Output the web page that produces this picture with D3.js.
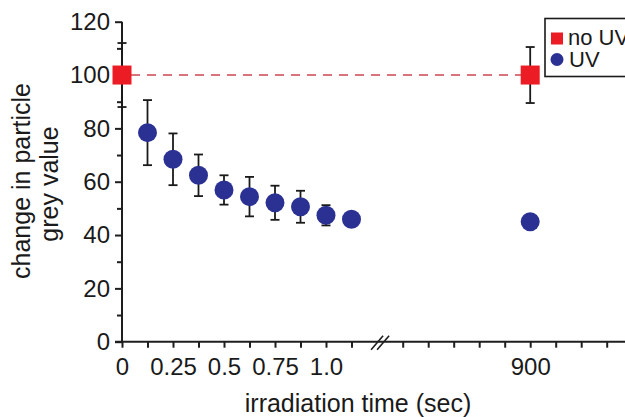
<!DOCTYPE html>
<html lang='en'>
  <head>
    <meta charset="utf-8">
    <style>
      body { margin: 0; background: #ffffff; }
      text {
            font-family: "Liberation Sans", Arial, sans-serif;
            fill: #1a1a1a;
      }
    </style>
    <title>Particle grey value</title>
    <script src="https://d3js.org/d3.v7.min.js"></script>
  </head>
  <body>
    <div id="chart"></div>
  <script>

    // data
    var uvTimes  = [0.125, 0.25, 0.375, 0.5, 0.625, 0.75, 0.875, 1.0, 1.125];
    var uvValues = [78.4, 68.4, 62.4, 56.9, 54.4, 52.1, 50.6, 47.4, 45.9];
    var uvErrors = [12.2, 9.7, 7.8, 5.5, 7.4, 6.4, 6.0, 3.8, 0];
    var uvLateTime = 900, uvLateValue = 45.0, uvLateError = 0;

    var noUvTimes  = [0, 900];
    var noUvValues = [100, 100];
    var noUvErrors = [12, 10.5];

    var yMajorTicks = [0, 20, 40, 60, 80, 100, 120];
    var yMinorTicks = [10, 30, 50, 70, 90, 110];
    var xLeftTicks  = [0, 0.125, 0.25, 0.375, 0.5, 0.625, 0.75, 0.875, 1.0, 1.125];
    var xLeftLabels = {0: "0", 0.25: "0.25", 0.5: "0.5", 0.75: "0.75", 1: "1.0"};
    var xRightTicks = [400, 500, 600, 700, 800, 900, 1000, 1100, 1200];
    var xRightLabels = {900: "900"};

    var width = 625, height = 417;

    var svg = d3.select("#chart")
      .append("svg")
        .attr("width", width)
        .attr("height", height);

    // scales: broken x axis = two linear pieces
    var y = d3.scaleLinear().domain([0, 120]).range([341.7, 21.7]);
    var xL = d3.scaleLinear().domain([0, 1.125]).range([122, 351.5]);
    var xR = d3.scaleLinear().domain([400, 1200]).range([402.7, 606.7]);
    function xPos(t) { return t > 100 ? xR(t) : xL(t); }

    var axisColor = "#1e1e1e";

    // y axis
    var yAxis = svg.append("g")
      .attr("transform", "translate(" + xL(0) + ",0)")
      .call(d3.axisLeft(y).tickValues(yMajorTicks).tickSize(7).tickPadding(5));
    yAxis.select(".domain").remove();
    yAxis.selectAll("line").attr("stroke", axisColor).attr("stroke-width", 2);
    yAxis.selectAll("text").style("font-size", "24px").style("font-family", null);

    var yMinor = svg.append("g")
      .attr("transform", "translate(" + xL(0) + ",0)")
      .call(d3.axisLeft(y).tickValues(yMinorTicks).tickSize(5).tickFormat(""));
    yMinor.select(".domain").remove();
    yMinor.selectAll("line").attr("stroke", axisColor).attr("stroke-width", 2);

    svg.append("line")
      .attr("x1", xL(0)).attr("x2", xL(0))
      .attr("y1", y(0) + 1).attr("y2", y(120))
      .attr("stroke", axisColor).attr("stroke-width", 2);

    // x axis (left piece)
    var xAxisL = svg.append("g")
      .attr("transform", "translate(0," + y(0) + ")")
      .call(d3.axisBottom(xL).tickValues(xLeftTicks).tickSize(6).tickPadding(10)
        .tickFormat(function(d) { return xLeftLabels[d] || ""; }));
    xAxisL.select(".domain").remove();

    // x axis (right piece)
    var xAxisR = svg.append("g")
      .attr("transform", "translate(0," + y(0) + ")")
      .call(d3.axisBottom(xR).tickValues(xRightTicks).tickSize(6).tickPadding(10)
        .tickFormat(function(d) { return xRightLabels[d] || ""; }));
    xAxisR.select(".domain").remove();

    svg.selectAll(".tick line").attr("stroke", axisColor).attr("stroke-width", 2);
    xAxisL.selectAll("text").style("font-size", "24px").style("font-family", null);
    xAxisR.selectAll("text").style("font-size", "24px").style("font-family", null);

    svg.append("line")
      .attr("x1", xL(0) - 7).attr("x2", width)
      .attr("y1", y(0)).attr("y2", y(0))
      .attr("stroke", axisColor).attr("stroke-width", 2);

    // axis break marks
    var brk = (xL(1.125) + xR(400)) / 2 + 3;
    [-3, 3].forEach(function(o) {
      svg.append("line")
        .attr("x1", brk + o - 6).attr("y1", y(0) + 8)
        .attr("x2", brk + o + 6).attr("y2", y(0) - 6)
        .attr("stroke", axisColor).attr("stroke-width", 1.6);
    });

    // axis titles
    svg.append("text")
      .attr("transform", "translate(30,181) rotate(-90)")
      .attr("text-anchor", "middle")
      .style("font-size", "25px")
      .text("change in particle");
    svg.append("text")
      .attr("transform", "translate(58,184) rotate(-90)")
      .attr("text-anchor", "middle")
      .style("font-size", "25px")
      .text("grey value");
    svg.append("text")
      .attr("x", 358).attr("y", 412)
      .attr("text-anchor", "middle")
      .style("font-size", "25px")
      .text("irradiation time (sec)");

    // dashed reference line for no UV
    svg.append("line")
      .attr("x1", xPos(noUvTimes[0]) + 9).attr("x2", xPos(noUvTimes[1]) - 9)
      .attr("y1", y(noUvValues[0])).attr("y2", y(noUvValues[1]))
      .attr("stroke", "#d9747c").attr("stroke-width", 2)
      .attr("stroke-dasharray", "9,7");

    // error bars
    var errData = uvTimes.map(function(t, i) { return {t: t, v: uvValues[i], e: uvErrors[i]}; })
      .concat([{t: uvLateTime, v: uvLateValue, e: uvLateError}])
      .concat(noUvTimes.map(function(t, i) { return {t: t, v: noUvValues[i], e: noUvErrors[i]}; }))
      .filter(function(d) { return d.e > 0; });

    var eb = svg.selectAll("g.err")
      .data(errData)
      .enter()
      .append("g")
        .attr("stroke", "#1a1a1a")
        .attr("stroke-width", 1.8);
    eb.append("line")
      .attr("x1", function(d) { return xPos(d.t); })
      .attr("x2", function(d) { return xPos(d.t); })
      .attr("y1", function(d) { return y(d.v + d.e); })
      .attr("y2", function(d) { return y(d.v - d.e); });
    eb.append("line")
      .attr("x1", function(d) { return xPos(d.t) - 4.5; })
      .attr("x2", function(d) { return xPos(d.t) + 4.5; })
      .attr("y1", function(d) { return y(d.v + d.e); })
      .attr("y2", function(d) { return y(d.v + d.e); });
    eb.append("line")
      .attr("x1", function(d) { return xPos(d.t) - 4.5; })
      .attr("x2", function(d) { return xPos(d.t) + 4.5; })
      .attr("y1", function(d) { return y(d.v - d.e); })
      .attr("y2", function(d) { return y(d.v - d.e); });

    // UV points
    var uvPts = uvTimes.map(function(t, i) { return {t: t, v: uvValues[i]}; })
      .concat([{t: uvLateTime, v: uvLateValue}]);
    svg.selectAll("circle.uv")
      .data(uvPts)
      .enter()
      .append("circle")
        .attr("class", "uv")
        .attr("cx", function(d) { return xPos(d.t); })
        .attr("cy", function(d) { return y(d.v); })
        .attr("r", 9.5)
        .attr("fill", "#2b3192");

    // no UV points
    svg.selectAll("rect.nouv")
      .data(noUvTimes.map(function(t, i) { return {t: t, v: noUvValues[i]}; }))
      .enter()
      .append("rect")
        .attr("class", "nouv")
        .attr("x", function(d) { return xPos(d.t) - 9.5; })
        .attr("y", function(d) { return y(d.v) - 9.5; })
        .attr("width", 19).attr("height", 19)
        .attr("fill", "#ec1c24");

    // legend
    var lg = svg.append("g");
    lg.append("rect")
      .attr("x", 545).attr("y", 18.5)
      .attr("width", 100).attr("height", 58)
      .attr("fill", "#ffffff")
      .attr("stroke", "#1a1a1a").attr("stroke-width", 1.6);
    lg.append("rect")
      .attr("x", 551).attr("y", 32.5)
      .attr("width", 12).attr("height", 12)
      .attr("fill", "#ec1c24");
    lg.append("circle")
      .attr("cx", 557).attr("cy", 59.5).attr("r", 6.5)
      .attr("fill", "#2b3192");
    lg.append("text")
      .attr("x", 568).attr("y", 45)
      .style("font-size", "22px")
      .text("no UV");
    lg.append("text")
      .attr("x", 569).attr("y", 67)
      .style("font-size", "22px")
      .text("UV");

  </script>
  </body>
</html>
